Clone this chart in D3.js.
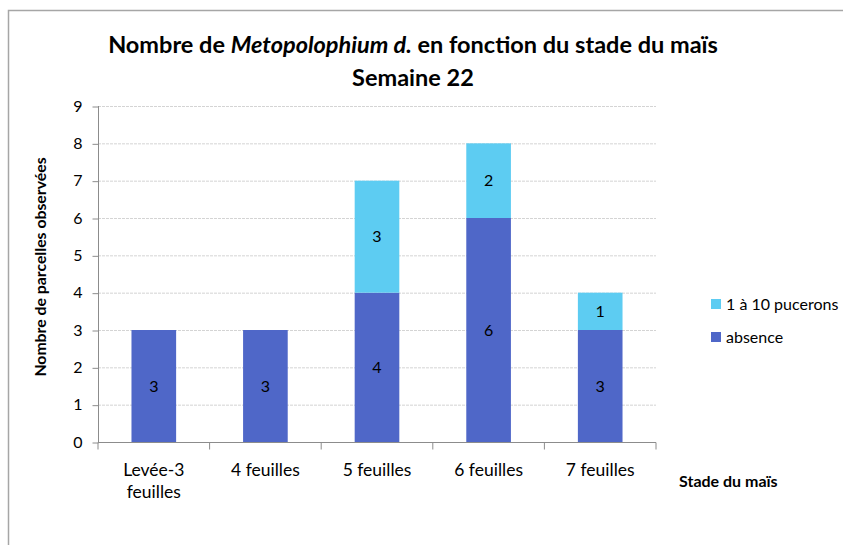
<!DOCTYPE html>
<html>
<head>
<meta charset="utf-8">
<script src="https://cdn.jsdelivr.net/npm/d3@7"></script>
<style>
  body { margin: 0; background: #fff; }
  text { font-family: Lato, "Open Sans", sans-serif; fill: #000; }
</style>
</head>
<body>
<svg id="chart" width="843" height="545"></svg>
<script>
const stades = ["Levée-3 feuilles", "4 feuilles", "5 feuilles", "6 feuilles", "7 feuilles"];
const absence = [3, 3, 4, 6, 3];
const pucerons = [0, 0, 3, 2, 1];
const seriesNames = ["absence", "1 à 10 pucerons"];
const yTicks = [0, 1, 2, 3, 4, 5, 6, 7, 8, 9];

const colours = { "absence": "#4f67c8", "1 à 10 pucerons": "#5dccf2" };

const svg = d3.select("#chart");

// chart frame
svg.append("rect")
    .attr("x", 8.5).attr("y", 10.5)
    .attr("width", 900).attr("height", 600)
    .attr("fill", "none")
    .attr("stroke", "#a6a6a6")
    .attr("stroke-width", 1.5);

const margin = { top: 106, right: 187, bottom: 103, left: 98 };
const width = 843 - margin.left - margin.right;
const height = 545 - margin.top - margin.bottom;

const g = svg.append("g").attr("transform", `translate(${margin.left},${margin.top})`);

const x = d3.scaleBand().domain(stades).range([0, width]).paddingInner(0.6).paddingOuter(0.3);
const y = d3.scaleLinear().domain([0, 9]).range([height, 0]);

// gridlines
g.selectAll(".grid")
    .data(yTicks.filter(d => d > 0))
    .join("line")
    .attr("x1", 0).attr("x2", width)
    .attr("y1", d => y(d) + 0.5).attr("y2", d => y(d) + 0.5)
    .attr("stroke", "#d4d4d4")
    .attr("stroke-dasharray", "3,1");

const rows = stades.map((s, i) => ({ stade: s, "absence": absence[i], "1 à 10 pucerons": pucerons[i] }));
const stacked = d3.stack().keys(seriesNames)(rows);

const layers = g.selectAll(".layer")
    .data(stacked)
    .join("g")
    .attr("fill", d => colours[d.key]);

layers.selectAll("rect")
    .data(d => d.filter(p => p[1] > p[0]))
    .join("rect")
    .attr("x", d => x(d.data.stade))
    .attr("y", d => y(d[1]))
    .attr("width", x.bandwidth())
    .attr("height", d => y(d[0]) - y(d[1]));

layers.selectAll("text")
    .data(d => d.filter(p => p[1] > p[0]))
    .join("text")
    .attr("x", d => x(d.data.stade) + x.bandwidth() / 2)
    .attr("y", d => y((d[0] + d[1]) / 2))
    .attr("dy", "0.35em")
    .attr("text-anchor", "middle")
    .attr("font-size", 16)
    .text(d => d[1] - d[0]);

// y axis
const yAxis = g.append("g")
    .attr("transform", "translate(0.5,0)")
    .call(d3.axisLeft(y).tickValues(yTicks).tickSize(6).tickPadding(10).tickFormat(d3.format("d")));
yAxis.select(".domain").attr("stroke", "#8c8c8c").attr("d", `M0,0V${height}`);
yAxis.selectAll(".tick line").attr("stroke", "#8c8c8c").attr("transform", "translate(0,0.5)");
yAxis.selectAll(".tick text").attr("font-size", 16).attr("font-family", "Lato");

// x axis
const xAxis = g.append("g").attr("transform", `translate(0,${height + 0.5})`);
xAxis.append("line").attr("x1", 0).attr("x2", width).attr("stroke", "#8c8c8c");
xAxis.selectAll(".xtick")
    .data(d3.range(stades.length + 1))
    .join("line")
    .attr("x1", i => i * width / stades.length)
    .attr("x2", i => i * width / stades.length)
    .attr("y1", 0).attr("y2", 7)
    .attr("stroke", "#8c8c8c");

const xLabels = xAxis.selectAll(".xlabel")
    .data(stades)
    .join("text")
    .attr("text-anchor", "middle")
    .attr("font-size", 17.5)
    .attr("transform", d => `translate(${x(d) + x.bandwidth() / 2},33)`);
xLabels.each(function(d) {
    const parts = d === "Levée-3 feuilles" ? ["Levée-3", "feuilles"] : [d];
    d3.select(this).selectAll("tspan")
        .data(parts)
        .join("tspan")
        .attr("x", 0)
        .attr("dy", (_, i) => i === 0 ? 0 : 22)
        .text(p => p);
});

// axis titles
svg.append("text")
    .attr("transform", "translate(46,267) rotate(-90)")
    .attr("text-anchor", "middle")
    .attr("font-size", 15.8)
    .attr("font-weight", "bold")
    .text("Nombre de parcelles observées");

svg.append("text")
    .attr("x", 679).attr("y", 487)
    .attr("font-size", 16)
    .attr("font-weight", "bold")
    .text("Stade du maïs");

// title
const title = svg.append("text")
    .attr("x", 413).attr("y", 53)
    .attr("text-anchor", "middle")
    .attr("font-size", 23.5)
    .attr("font-weight", "bold");
title.append("tspan").text("Nombre de ");
title.append("tspan").attr("font-style", "italic").text("Metopolophium d.");
title.append("tspan").text(" en fonction du stade du maïs");

svg.append("text")
    .attr("x", 413).attr("y", 86)
    .attr("text-anchor", "middle")
    .attr("font-size", 23.5)
    .attr("font-weight", "bold")
    .text("Semaine 22");

// legend
const legend = svg.append("g").attr("transform", "translate(711,299)");
const legendItems = legend.selectAll("g")
    .data(seriesNames.slice().reverse())
    .join("g")
    .attr("transform", (_, i) => `translate(0,${i * 33})`);
legendItems.append("rect")
    .attr("width", 10).attr("height", 10)
    .attr("fill", d => colours[d]);
legendItems.append("text")
    .attr("x", 15).attr("y", 5).attr("dy", "0.35em")
    .attr("font-size", 16)
    .text(d => d);
</script>
</body>
</html>
